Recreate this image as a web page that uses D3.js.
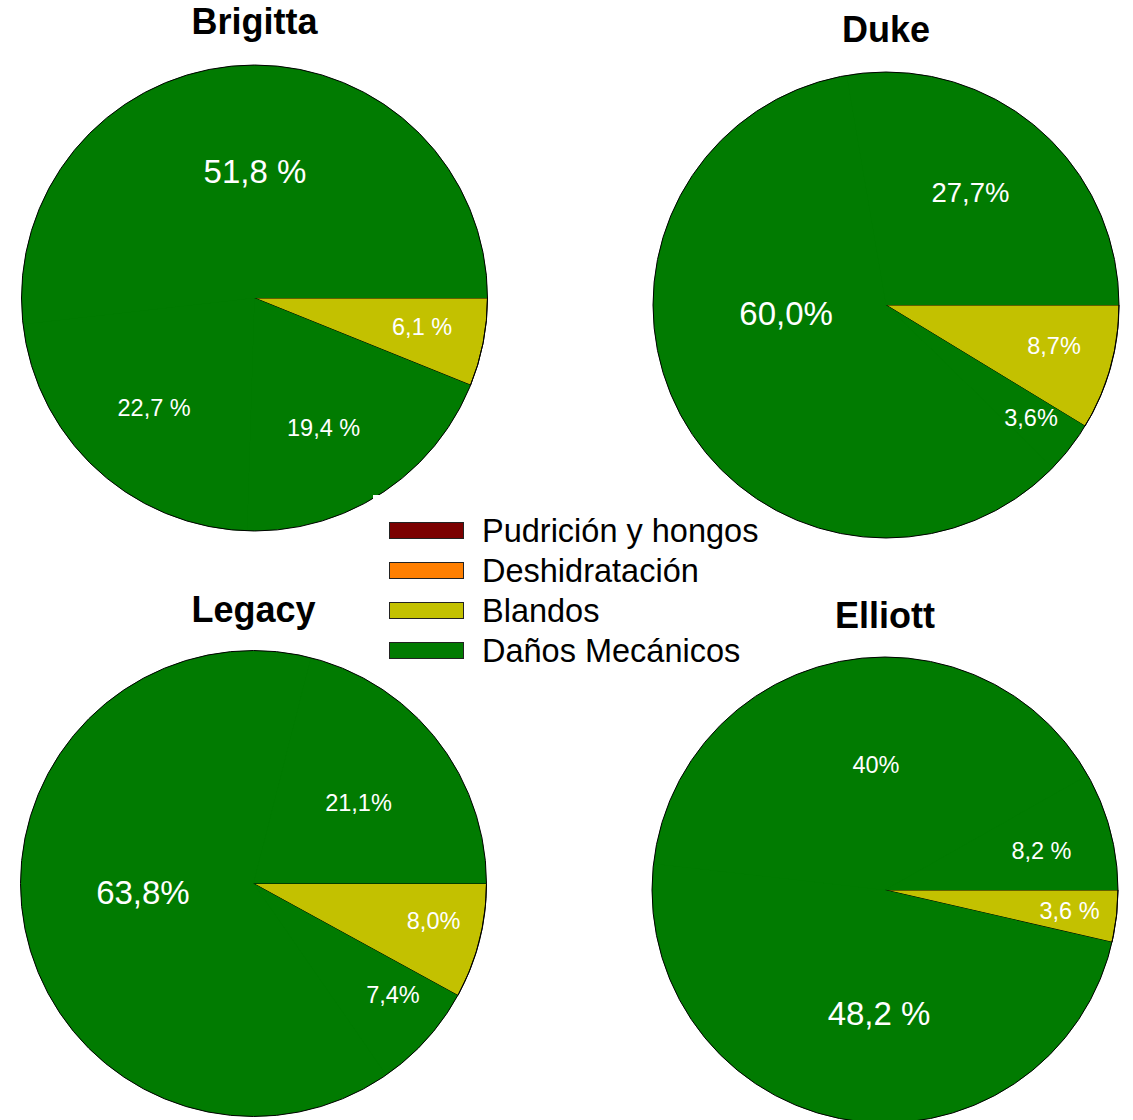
<!DOCTYPE html>
<html>
<head>
<meta charset="utf-8">
<script src="https://cdn.jsdelivr.net/npm/d3@7"></script>
<style>
  html, body { margin: 0; padding: 0; background: #fff; }
  svg { display: block; font-family: "Liberation Sans", Arial, sans-serif; }
</style>
</head>
<body>
<svg id="chart" width="1133" height="1120"></svg>
<script>
// Legend categories and their fills
const categories = ["Pudrición y hongos", "Deshidratación", "Blandos", "Daños Mecánicos"];
const categoryColors = ["#7B0000", "#FF7F00", "#C3C100", "#017B01"];

const cultivars = ["Brigitta", "Duke", "Legacy", "Elliott"];

// Slice values (%) listed clockwise from 3 o'clock; the first slice is "Blandos"
const brigittaValues = [6.1, 19.4, 22.7, 51.8];
const dukeValues     = [8.7, 3.6, 60.0, 27.7];
const legacyValues   = [8.0, 7.4, 63.8, 21.1];
const elliottValues  = [3.6, 48.2, 40.0, 8.2];

// Printed slice labels, same order as the values
const brigittaLabels = ["6,1 %", "19,4 %", "22,7 %", "51,8 %"];
const dukeLabels     = ["8,7%", "3,6%", "60,0%", "27,7%"];
const legacyLabels   = ["8,0%", "7,4%", "63,8%", "21,1%"];
const elliottLabels  = ["3,6 %", "48,2 %", "40%", "8,2 %"];

// Category drawn for each slice position
const sliceCategories = ["Blandos", "Daños Mecánicos", "Daños Mecánicos", "Daños Mecánicos"];

const allValues = [brigittaValues, dukeValues, legacyValues, elliottValues];
const allLabels = [brigittaLabels, dukeLabels, legacyLabels, elliottLabels];

// Placement of each pie and of its labels (angle in degrees clockwise from 3 o'clock,
// distance as a fraction of the radius)
const R = 233;
const pieLayout = [
  { cx: 254.5, cy: 298,   titleY: 33.5,  labelAngle: [9.8, 62, 132.4, 270.2],  labelRadius: [0.73, 0.632, 0.639, 0.545], labelSize: [23.5, 23.5, 23.5, 33] },
  { cx: 886,   cy: 305,   titleY: 42.3,  labelAngle: [13.6, 37.9, 175.4, 306.7], labelRadius: [0.742, 0.789, 0.43, 0.607], labelSize: [23.5, 23.5, 33, 27.5] },
  { cx: 253.5, cy: 883.5, titleY: 621.7, labelAngle: [11.6, 38.6, 175.6, 322.5], labelRadius: [0.789, 0.766, 0.476, 0.568], labelSize: [23.5, 23.5, 33, 23.5] },
  { cx: 885,   cy: 890,   titleY: 627.7, labelAngle: [6.5, 92.8, 265.9, 346.0],  labelRadius: [0.797, 0.528, 0.542, 0.692], labelSize: [23.5, 33, 23.5, 23.5] }
];

const color = d3.scaleOrdinal().domain(categories).range(categoryColors);

const svg = d3.select("#chart");

const pie = d3.pie()
  .sort(null)
  .value(d => d.value)
  .startAngle(Math.PI / 2)
  .endAngle(Math.PI / 2 + 2 * Math.PI);

const arc = d3.arc().innerRadius(0).outerRadius(R);

cultivars.forEach((name, i) => {
  const L = pieLayout[i];
  const rows = allValues[i].map((v, j) => ({
    value: v, label: allLabels[i][j], category: sliceCategories[j], idx: j
  }));
  const arcs = pie(rows);

  const g = svg.append("g").attr("transform", `translate(${L.cx},${L.cy})`);

  // base disc so touching wedges of the same fill show no seams
  g.append("circle")
    .attr("r", R - 0.5)
    .attr("fill", color("Daños Mecánicos"));

  // filled wedges
  g.selectAll("path.slice")
    .data(arcs)
    .join("path")
    .attr("class", "slice")
    .attr("d", arc)
    .attr("fill", d => color(d.data.category))
    .attr("stroke", d => d.data.category === "Blandos" ? "#000" : "none")
    .attr("stroke-width", 1);

  // outer rim
  g.append("circle")
    .attr("r", R)
    .attr("fill", "none")
    .attr("stroke", "#000")
    .attr("stroke-width", 1);

  // value labels
  g.selectAll("text.val")
    .data(arcs)
    .join("text")
    .attr("class", "val")
    .attr("x", d => L.labelRadius[d.data.idx] * R * Math.cos(L.labelAngle[d.data.idx] * Math.PI / 180))
    .attr("y", d => L.labelRadius[d.data.idx] * R * Math.sin(L.labelAngle[d.data.idx] * Math.PI / 180))
    .attr("dy", "0.36em")
    .attr("text-anchor", "middle")
    .attr("fill", "#fff")
    .attr("font-size", d => L.labelSize[d.data.idx])
    .text(d => d.data.label);

  // cultivar title
  svg.append("text")
    .attr("x", L.cx)
    .attr("y", L.titleY)
    .attr("text-anchor", "middle")
    .attr("font-size", 36)
    .attr("font-weight", "bold")
    .attr("fill", "#000")
    .text(name);
});

// Legend
const legend = svg.append("g");
legend.append("rect")
  .attr("x", 373).attr("y", 495)
  .attr("width", 375).attr("height", 175)
  .attr("fill", "#fff");

const rowY = d3.scalePoint().domain(categories).range([530, 650]);

const item = legend.selectAll("g.item")
  .data(categories)
  .join("g")
  .attr("class", "item")
  .attr("transform", d => `translate(0,${rowY(d)})`);

item.append("rect")
  .attr("x", 389.5).attr("y", -7.5)
  .attr("width", 74).attr("height", 16)
  .attr("fill", d => color(d))
  .attr("stroke", "#222")
  .attr("stroke-width", 1);

item.append("text")
  .attr("x", 482)
  .attr("dy", "0.36em")
  .attr("font-size", 32.5)
  .attr("fill", "#000")
  .text(d => d);
</script>
</body>
</html>
